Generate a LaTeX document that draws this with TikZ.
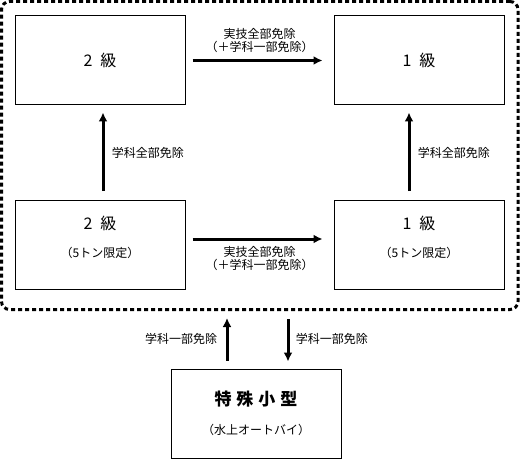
\documentclass[tikz,border=0pt]{standalone}
\usepackage{fontspec}
\setmainfont{Noto Sans CJK JP}
\usetikzlibrary{arrows.meta}
\tikzset{
  menkyo/.style={draw,line width=1pt,minimum width=170pt,minimum height=89pt,align=center,inner sep=0pt},
  waku/.style={draw,line width=3pt,dash pattern=on 4pt off 3pt,rounded corners=8pt,outer sep=0pt,inner sep=0pt},
  menjo/.style={line width=3pt,-{Latex[length=9pt,width=9pt]}},
  setsumei/.style={font=\fontsize{12}{13}\selectfont,align=center}
}
\begin{document}
\begin{tikzpicture}[x=1pt,y=-1pt]
	\useasboundingbox[fill=white] (0,0) rectangle (520,460);
	\node[waku,minimum width=516.5pt,minimum height=308pt] (waku) at (259.75,155.5) {};
	% jou: 2 kyu, 1 kyu
	\node[menkyo] (kyu2) at (100,60.5) {\fontsize{16}{18}\selectfont 2\hspace{8pt}級};
	\node[menkyo] (kyu1) at (419,60.5) {\fontsize{16}{18}\selectfont 1\hspace{8pt}級};
	% 5 ton gentei
	\node[menkyo,text depth=17pt] (kyu2g) at (100,245) {\fontsize{16}{18}\selectfont 2\hspace{8pt}級\\[16pt]\fontsize{12}{14}\selectfont （5トン限定）};
	\node[menkyo,text depth=17pt] (kyu1g) at (419,245) {\fontsize{16}{18}\selectfont 1\hspace{8pt}級\\[16pt]\fontsize{12}{14}\selectfont （5トン限定）};
	\node[menkyo] (tokushu) at (256,413.5) {\fontsize{17}{18}\selectfont\bfseries 特\hspace{5pt}殊\hspace{5pt}小\hspace{5pt}型\\[17pt]\fontsize{12}{14}\selectfont （水上オートバイ）};
	\draw[menjo,shorten <=7pt,shorten >=11pt] (kyu2.east) -- (kyu1.west)
		node[midway,above=3pt,setsumei] {実技全部免除\\（＋学科一部免除）};
	\draw[menjo,shorten <=7pt,shorten >=11pt] ([yshift=6pt]kyu2g.east) -- ([yshift=6pt]kyu1g.west)
		node[midway,below=3pt,setsumei] {実技全部免除\\（＋学科一部免除）};
	\draw[menjo,shorten <=9pt,shorten >=7pt] ([xshift=3pt]kyu2g.north) -- ([xshift=3pt]kyu2.south)
		node[midway,right=4pt,setsumei] {学科全部免除};
	\draw[menjo,shorten <=9pt,shorten >=7pt] ([xshift=-10pt]kyu1g.north) -- ([xshift=-10pt]kyu1.south)
		node[midway,right=4pt,setsumei] {学科全部免除};
	% tokushu kogata
	\draw[menjo,shorten <=8pt,shorten >=8.5pt] ([xshift=-29pt]tokushu.north) -- ([xshift=-29pt]tokushu.north |- waku.south)
		node[midway,left=5pt,setsumei] {学科一部免除};
	\draw[menjo,shorten <=9.5pt,shorten >=7pt] ([xshift=32pt]tokushu.north |- waku.south) -- ([xshift=32pt]tokushu.north)
		node[midway,right=3pt,setsumei] {学科一部免除};
\end{tikzpicture}
\end{document}
